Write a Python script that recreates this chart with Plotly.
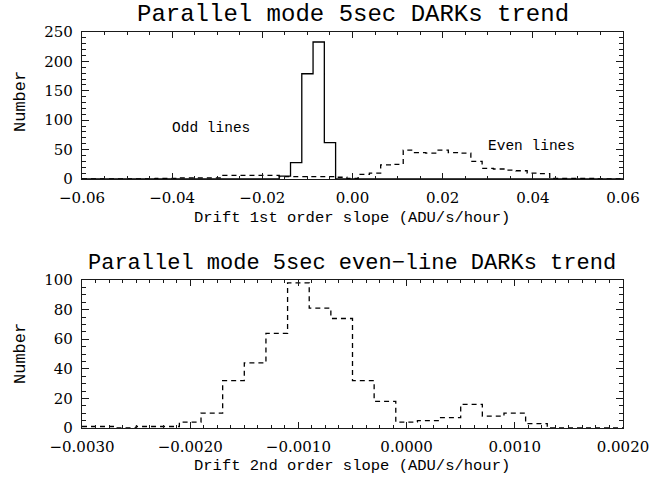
import plotly.graph_objects as go

# ---------------- data ----------------
# top panel: histogram bin centres (ADU/s/hour), bin width 0.0025
bin_centers_1 = [-0.06, -0.0575, -0.055, -0.0525, -0.05, -0.0475, -0.045, -0.0425,
                 -0.04, -0.0375, -0.035, -0.0325, -0.03, -0.0275, -0.025, -0.0225,
                 -0.02, -0.0175, -0.015, -0.0125, -0.01, -0.0075, -0.005, -0.0025,
                 0.0, 0.0025, 0.005, 0.0075, 0.01, 0.0125, 0.015, 0.0175,
                 0.02, 0.0225, 0.025, 0.0275, 0.03, 0.0325, 0.035, 0.0375,
                 0.04, 0.0425, 0.045, 0.0475, 0.05, 0.0525, 0.055, 0.0575, 0.06]
odd_counts = [0, 0, 0, 0, 0, 0, 0, 0,
              0, 0, 0, 0, 0, 0, 0, 0,
              0, 0, 5, 28, 179, 233, 62, 0,
              0, 0, 0, 0, 0, 0, 0, 0,
              0, 0, 0, 0, 0, 0, 0, 0,
              0, 0, 0, 0, 0, 0, 0, 0, 0]
even_counts = [0, 0, 0, 0, 0, 0, 0, 1,
               1, 2, 2, 2, 2, 6, 6, 6,
               6, 6, 4, 4, 4, 4, 4, 3,
               1, 8, 10, 24, 25, 49, 45, 44,
               49, 45, 44, 30, 18, 17, 15, 14,
               10, 9, 1, 1, 1, 1, 0, 0, 0]

# bottom panel: bin centres, bin width 0.0002
bin_centers_2 = [-0.003, -0.0028, -0.0026, -0.0024, -0.0022, -0.002, -0.0018,
                 -0.0016, -0.0014, -0.0012, -0.001, -0.0008, -0.0006, -0.0004,
                 -0.0002, 0.0, 0.0002, 0.0004, 0.0006, 0.0008, 0.001, 0.0012,
                 0.0014, 0.0016, 0.0018, 0.002]
even2_counts = [1, 1, 0, 1, 1, 4, 10,
                32, 44, 64, 98, 81, 74, 32,
                18, 4, 5, 7, 16, 8, 10, 3,
                0, 0, 0, 0]

top_title = "Parallel mode 5sec DARKs trend"
bottom_title = "Parallel mode 5sec even\u2212line DARKs trend"
x1_title = "Drift 1st order slope (ADU/s/hour)"
x2_title = "Drift 2nd order slope (ADU/s/hour)"
y_title = "Number"

# ---------------- figure ----------------
W, H = 653, 487
TXT = "Liberation Mono"
TICKF = dict(family="DejaVu Serif", size=15, color="black")
LC = "#1a1a1a"

def px_x(p):
    return p / W

def px_y(p):
    return 1 - p / H

fig = go.Figure()
line_common = dict(shape="hvh", color="black", width=1.3)
fig.add_trace(go.Scatter(x=bin_centers_1, y=odd_counts, mode="lines",
                         line=line_common, xaxis="x", yaxis="y",
                         showlegend=False, hoverinfo="skip"))
fig.add_trace(go.Scatter(x=bin_centers_1, y=even_counts, mode="lines",
                         line=dict(line_common, dash="5px,4px"), xaxis="x", yaxis="y",
                         showlegend=False, hoverinfo="skip"))
fig.add_trace(go.Scatter(x=bin_centers_2, y=even2_counts, mode="lines",
                         line=dict(line_common, dash="5px,4px"), xaxis="x2", yaxis="y2",
                         showlegend=False, hoverinfo="skip"))

xdom = [px_x(82), px_x(623)]

def axis_common(**kw):
    d = dict(showline=True, linecolor=LC, linewidth=1.2, mirror="ticks",
             ticks="inside", tickcolor=LC, tickwidth=1, showgrid=False,
             zeroline=False, tickfont=TICKF, ticklabelstandoff=5,
             automargin=False)
    d.update(kw)
    return d

fig.update_layout(
    width=W, height=H,
    margin=dict(l=0, r=0, t=0, b=0, pad=0, autoexpand=False),
    paper_bgcolor="white", plot_bgcolor="white",
    font=dict(family=TXT, color="black"),
    xaxis=axis_common(domain=xdom, anchor="y", range=[-0.06, 0.06],
                      tick0=-0.06, dtick=0.02, tickformat=".2f", ticklen=6,
                      minor=dict(tick0=-0.06, dtick=0.005, ticklen=3,
                                 ticks="inside", tickcolor=LC, tickwidth=1)),
    yaxis=axis_common(domain=[px_y(179), px_y(32)], anchor="x", range=[0, 250],
                      tick0=0, dtick=50, ticklen=7,
                      minor=dict(tick0=0, dtick=10, ticklen=3.5,
                                 ticks="inside", tickcolor=LC, tickwidth=1)),
    xaxis2=axis_common(domain=xdom, anchor="y2", range=[-0.003, 0.002],
                       tick0=-0.003, dtick=0.001, tickformat=".4f", ticklen=6,
                       minor=dict(tick0=-0.003, dtick=0.000125, ticklen=3,
                                  ticks="inside", tickcolor=LC, tickwidth=1)),
    yaxis2=axis_common(domain=[px_y(428), px_y(280)], anchor="x2", range=[0, 100],
                       tick0=0, dtick=20, ticklen=7,
                       minor=dict(tick0=0, dtick=5, ticklen=3.5,
                                  ticks="inside", tickcolor=LC, tickwidth=1)),
)

def note(text, x, y, size, **kw):
    d = dict(text=text, x=x, y=y, xref="paper", yref="paper", showarrow=False,
             xanchor="center", yanchor="middle",
             font=dict(family=TXT, size=size, color="black"))
    d.update(kw)
    fig.add_annotation(**d)

note(top_title, px_x(352.5), px_y(15), 24)
note(bottom_title, px_x(352), px_y(263), 22)
note(x1_title, px_x(352), px_y(218), 15.5)
note(x2_title, px_x(352), px_y(466), 15.5)
note(y_title, px_x(20), px_y(102), 17, textangle=-90)
note(y_title, px_x(20), px_y(354), 17, textangle=-90)

# in-plot labels (data coordinates)
fig.add_annotation(text="Odd lines", x=-0.0314, y=87, xref="x", yref="y",
                   showarrow=False, font=dict(family=TXT, size=14.5, color="black"))
fig.add_annotation(text="Even lines", x=0.0398, y=56, xref="x", yref="y",
                   showarrow=False, font=dict(family=TXT, size=14.5, color="black"))

fig.write_html("out.html")
